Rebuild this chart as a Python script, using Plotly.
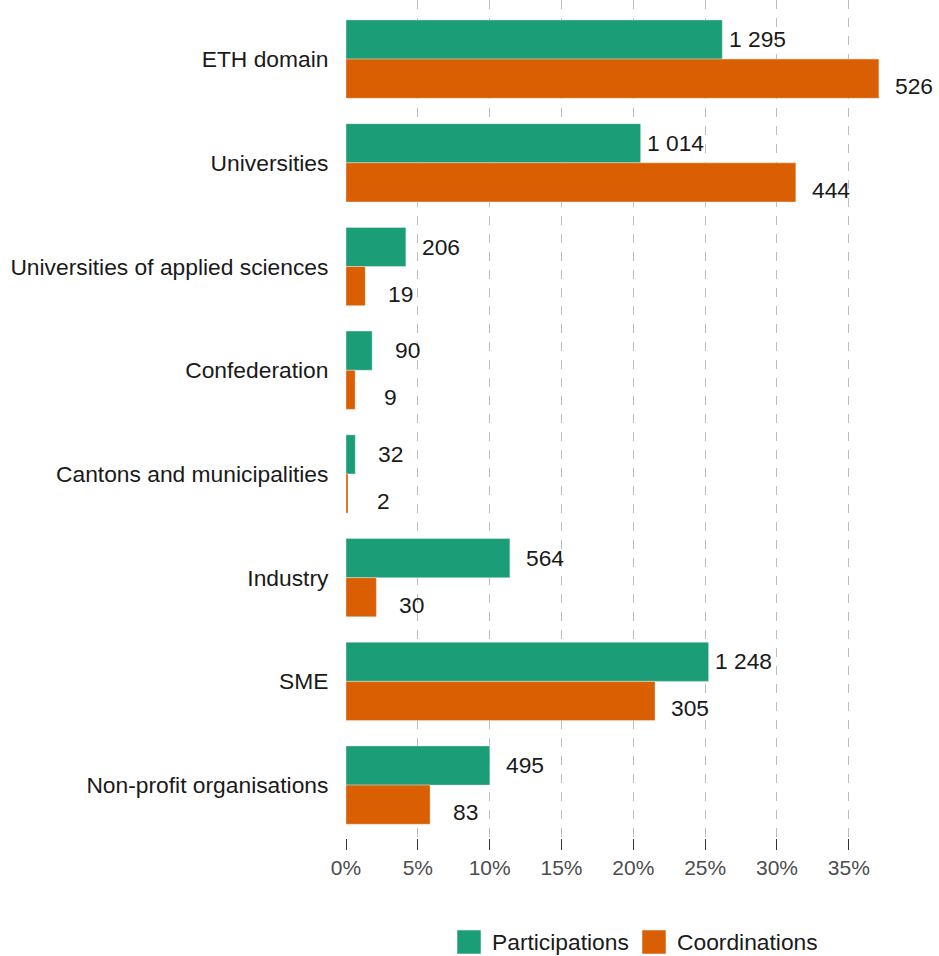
import plotly.graph_objects as go

categories = ["ETH domain", "Universities", "Universities of applied sciences",
              "Confederation", "Cantons and municipalities", "Industry", "SME",
              "Non-profit organisations"]
participations = [1295, 1014, 206, 90, 32, 564, 1248, 495]
coordinations = [526, 444, 19, 9, 2, 30, 305, 83]
series_names = ["Participations", "Coordinations"]
colors = ["#1B9E77", "#D95F02"]
tick_vals = [0, 5, 10, 15, 20, 25, 30, 35]
tick_text = ["0%", "5%", "10%", "15%", "20%", "25%", "30%", "35%"]

FONT = "Liberation Sans, Arial, sans-serif"
LABEL_SIZE = 22.8
TEXT_COL = "#1a1a1a"


def shares(vals):
    tot = sum(vals)
    return [v / tot * 100 for v in vals]


def fmt(v):
    return f"{v:,}".replace(",", " ")


fig = go.Figure()
series = [participations, coordinations]
for name, vals, col in zip(series_names, series, colors):
    fig.add_trace(go.Bar(
        y=categories, x=shares(vals), name=name, orientation="h",
        marker=dict(color=col, line=dict(color="rgba(255,255,255,0.35)", width=1)),
        showlegend=False, hoverinfo="skip",
    ))

annotations = []
for vals, ysh in zip(series, [20, -27]):
    for cat, v, p in zip(categories, vals, shares(vals)):
        annotations.append(dict(
            x=p, y=cat, xref="x", yref="y", text=fmt(v), showarrow=False,
            xanchor="center", yanchor="middle", xshift=35, yshift=ysh,
            font=dict(family=FONT, size=LABEL_SIZE, color=TEXT_COL),
        ))

# manual legend (large square keys), placed below the panel
shapes = []
legend_x = [457, 642]   # pixel positions of key squares
W, H = 939, 956
ML, MR, MT, MB = 346, 4, 0, 118
pw, ph = W - ML - MR, H - MT - MB
for name, col, px in zip(series_names, colors, legend_x):
    x0 = (px - ML) / pw
    x1 = (px + 24 - ML) / pw
    y0 = -(954 - (H - MB)) / ph
    y1 = -(930 - (H - MB)) / ph
    shapes.append(dict(type="rect", xref="paper", yref="paper",
                       x0=x0, x1=x1, y0=y0, y1=y1,
                       fillcolor=col, line=dict(color="rgba(255,255,255,0.5)", width=1)))
    annotations.append(dict(x=(px + 33 - ML) / pw, y=-(942 - (H - MB)) / ph,
                            xref="paper", yref="paper", text=name, showarrow=False,
                            xanchor="left", yanchor="middle",
                            font=dict(family=FONT, size=LABEL_SIZE, color=TEXT_COL)))

fig.update_layout(
    width=W, height=H,
    margin=dict(l=ML, r=MR, t=MT, b=MB, autoexpand=False),
    paper_bgcolor="white", plot_bgcolor="white",
    barmode="group", bargap=0.245, bargroupgap=0,
    font=dict(family=FONT, size=21, color=TEXT_COL),
    annotations=annotations, shapes=shapes,
    showlegend=False,
    xaxis=dict(range=[0, 41], tickvals=tick_vals, ticktext=tick_text,
               showgrid=True, gridcolor="#BDBDBD", griddash="dash", gridwidth=1,
               zeroline=False, showline=False, automargin=False,
               ticks="outside", ticklen=11, tickcolor="#333333", tickwidth=1,
               tickfont=dict(family=FONT, size=21, color="#4D4D4D")),
    yaxis=dict(categoryorder="array", categoryarray=categories,
               range=[7.51, -0.57], showgrid=False, zeroline=False, showline=False,
               automargin=False,
               ticks="outside", ticklen=12, tickcolor="rgba(0,0,0,0)",
               tickfont=dict(family=FONT, size=LABEL_SIZE, color=TEXT_COL)),
)

fig.write_html("out.html")
